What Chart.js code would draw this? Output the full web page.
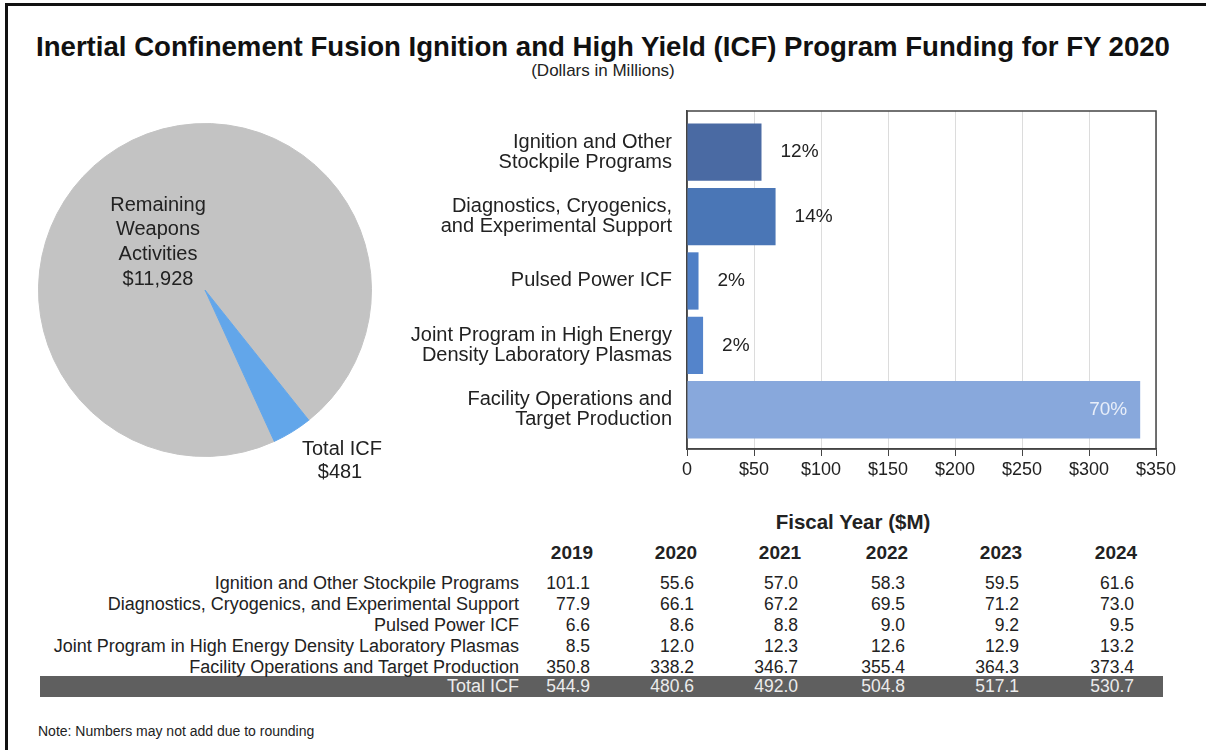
<!DOCTYPE html>
<html>
<head>
<meta charset="utf-8">
<script src="https://cdn.jsdelivr.net/npm/chart.js@4.4.1/dist/chart.umd.min.js"></script>
<style>
body{margin:0;width:1206px;height:750px;background:#fff;position:relative;overflow:hidden;font-family:"Liberation Sans",Arial,sans-serif;color:#222;}
.frame{position:absolute;left:5px;top:3px;width:1300px;height:800px;border-left:3px solid #111;border-top:3px solid #111;}
.abs{position:absolute;white-space:nowrap;}
#title{left:0;width:1206px;top:32px;text-align:center;font-weight:bold;font-size:27.6px;line-height:30px;color:#111;}
#subtitle{left:0;width:1206px;top:61px;text-align:center;font-size:17px;line-height:20px;}
#pie{position:absolute;left:15px;top:100px;}
#bars{position:absolute;left:400px;top:95px;}
.tbl{font-size:17.5px;line-height:21px;}
.lbl{font-size:18px;}
.hdr{font-weight:bold;font-size:19px;}
.big{font-weight:bold;font-size:20.5px;}
#band{position:absolute;left:40px;top:676px;width:1123px;height:21px;background:#5f5f5f;}
#note{left:38px;top:723px;font-size:14px;line-height:16px;}
</style>
</head>
<body>
<div class="frame"></div>
<div id="title" class="abs">Inertial Confinement Fusion Ignition and High Yield (ICF) Program Funding for FY 2020</div>
<div id="subtitle" class="abs">(Dollars in Millions)</div>
<canvas id="pie" width="380" height="380"></canvas>
<canvas id="bars" width="790" height="400"></canvas>
<div id="band"></div>
<div id="table"></div>
<div id="note" class="abs">Note: Numbers may not add due to rounding</div>

<script>

/* Data */

const pieLabels = ["Remaining Weapons Activities", "Total ICF"];
const pieValues = [11928, 481];

const barLabels = [
["Ignition and Other","Stockpile Programs"],
["Diagnostics, Cryogenics,","and Experimental Support"],
["Pulsed Power ICF"],
["Joint Program in High Energy","Density Laboratory Plasmas"],
["Facility Operations and","Target Production"]
];
const barValues = [55.6, 66.1, 8.6, 12.0, 338.2];
const barPct = ["12%", "14%", "2%", "2%", "70%"];
const xTicks = [0, 50, 100, 150, 200, 250, 300, 350];

const years = ["2019", "2020", "2021", "2022", "2023", "2024"];
const rowLabels = [
"Ignition and Other Stockpile Programs",
"Diagnostics, Cryogenics, and Experimental Support",
"Pulsed Power ICF",
"Joint Program in High Energy Density Laboratory Plasmas",
"Facility Operations and Target Production"
];
const ignition = ["101.1", "55.6", "57.0", "58.3", "59.5", "61.6"];
const diagnostics = ["77.9", "66.1", "67.2", "69.5", "71.2", "73.0"];
const pulsed = ["6.6", "8.6", "8.8", "9.0", "9.2", "9.5"];
const jointProgram = ["8.5", "12.0", "12.3", "12.6", "12.9", "13.2"];
const facility = ["350.8", "338.2", "346.7", "355.4", "364.3", "373.4"];
const totalICF = ["544.9", "480.6", "492.0", "504.8", "517.1", "530.7"];


/* Styles */

const FONT = '"Liberation Sans", Arial, sans-serif';
const barColors = ["#4a6aa3", "#4a76b6", "#4f7fc6", "#5484cb", "#88a8dc"];
const colRight = [590, 694, 798, 905, 1019, 1134];


/* Pie */

const pieText = {
id: "pieText",
afterDraw(chart){
const arc = chart.getDatasetMeta(0).data[0];
const cx = arc.x, cy = arc.y;
const c = chart.ctx;
c.save();
c.font = "20px " + FONT;
c.fillStyle = "#222";
c.textAlign = "center";
c.textBaseline = "middle";
["Remaining","Weapons","Activities","$11,928"].forEach((t,i)=>{
c.fillText(t, cx - 47, cy - 85 + i*24.7);
});
c.fillText("Total ICF", cx + 137, cy + 159);
c.fillText("$" + pieValues[1], cx + 135, cy + 182);
c.restore();
}
};

new Chart(document.getElementById("pie"), {
type: "pie",
data: {
labels: pieLabels,
datasets: [{
data: pieValues,
backgroundColor: ["#c3c3c3", "#62a6ea"],
borderColor: ["#c3c3c3", "#62a6ea"],
borderWidth: 1
}]
},
options: {
responsive: false,
animation: false,
rotation: 155.4,
layout: { padding: 23 },
plugins: { legend: { display: false }, tooltip: { enabled: false } }
},
plugins: [pieText]
});


/* Bars */

const barExtras = {
id: "barExtras",
beforeDatasetsDraw(chart){
const a = chart.chartArea;
const c = chart.ctx;
c.save();
c.strokeStyle = "#444";
c.lineWidth = 1.5;
c.strokeRect(a.left, a.top, a.right - a.left, a.bottom - a.top);
c.restore();
},
afterDatasetsDraw(chart){
const c = chart.ctx;
c.save();
c.font = "19px " + FONT;
c.textBaseline = "middle";
chart.getDatasetMeta(0).data.forEach((el,i)=>{
if(el.x - el.base > 200){
c.fillStyle = "#e8eef9";
c.textAlign = "right";
c.fillText(barPct[i], el.x - 13, el.y);
}
else{
c.fillStyle = "#222";
c.textAlign = "left";
c.fillText(barPct[i], el.x + 19, el.y);
}
});
c.restore();
}
};

new Chart(document.getElementById("bars"), {
type: "bar",
data: {
datasets: [{
data: barValues.map((v,i)=>({x: v, y: i})),
backgroundColor: barColors,
borderWidth: 0,
categoryPercentage: 1,
barPercentage: 0.89
}]
},
options: {
indexAxis: "y",
responsive: false,
animation: false,
layout: { padding: { top: 16, right: 34, left: 0, bottom: 0 } },
plugins: { legend: { display: false }, tooltip: { enabled: false } },
scales: {
x: {
type: "linear",
min: 0,
max: 350,
afterFit(s){ s.height = 46; s.paddingLeft = 0; s.paddingRight = 0; },
afterBuildTicks(s){ s.ticks = xTicks.map(v=>({value: v})); },
grid: { color: "#dcdcdc", tickColor: "#444", tickLength: 7, lineWidth: 1 },
border: { color: "#444", width: 1.5 },
ticks: {
color: "#222",
font: { family: FONT, size: 18 },
padding: 3,
callback: v => v === 0 ? "0" : "$" + v
}
},
y: {
type: "linear",
reverse: true,
offset: false,
min: -0.64,
max: 4.61,
afterFit(s){ s.width = 287; s.paddingTop = 0; s.paddingBottom = 0; },
afterBuildTicks(s){ s.ticks = barLabels.map((_,i)=>({value: i})); },
grid: { display: false, drawTicks: false, offset: false },
border: { color: "#444", width: 1.5 },
ticks: {
color: "#222",
font: { family: FONT, size: 20, lineHeight: 1.0 },
padding: 15,
callback: v => barLabels[v]
}
}
}
},
plugins: [barExtras]
});


/* Table */

const table = document.getElementById("table");

function addText(text, left, top, width, align, cls, color){
const d = document.createElement("div");
d.className = "abs tbl " + (cls || "");
d.style.left = left + "px";
d.style.top = top + "px";
d.style.width = width + "px";
d.style.textAlign = align;
if(color) d.style.color = color;
d.textContent = text;
table.appendChild(d);
}

addText("Fiscal Year ($M)", 753, 511, 200, "center", "big");
years.forEach((y,j)=>{
addText(y, colRight[j] - 58, 542, 80, "center", "hdr");
});

const rows = [ignition, diagnostics, pulsed, jointProgram, facility];
rows.forEach((r,i)=>{
const top = 573 + i*21.1;
addText(rowLabels[i], 0, top, 519, "right", "lbl");
r.forEach((v,j)=>{
addText(v, colRight[j] - 80, top, 80, "right");
});
});

addText("Total ICF", 0, 676, 519, "right", "lbl", "#ececec");
totalICF.forEach((v,j)=>{
addText(v, colRight[j] - 80, 676, 80, "right", "", "#ececec");
});

</script>
</body>
</html>
